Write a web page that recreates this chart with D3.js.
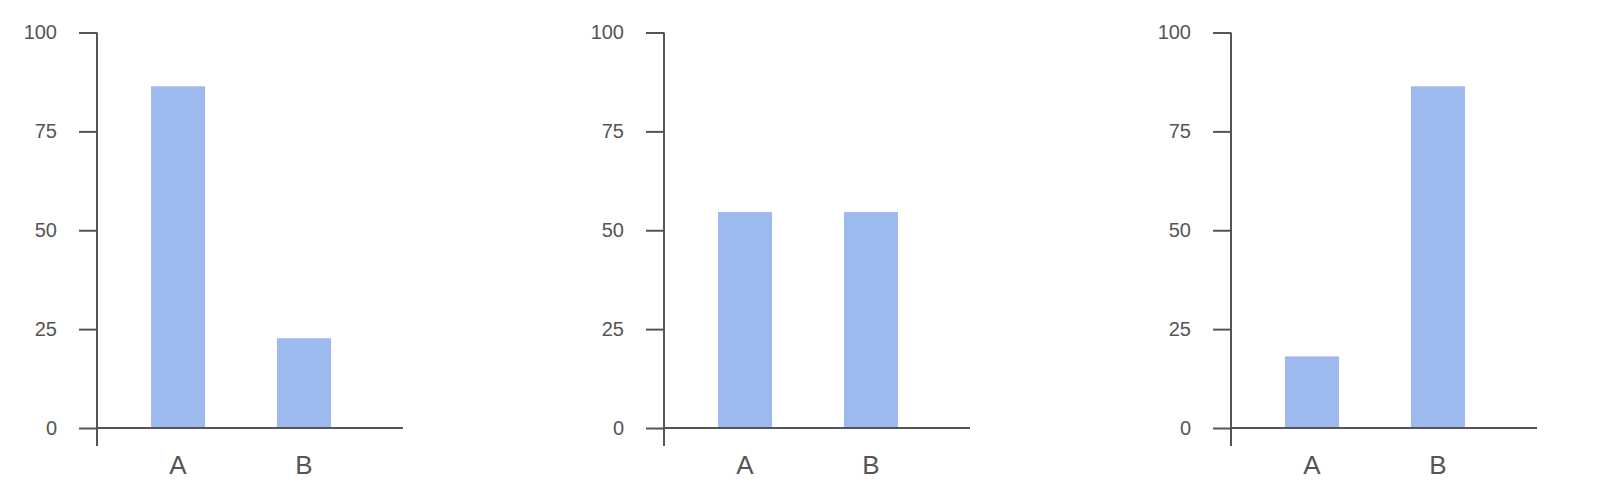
<!DOCTYPE html>
<html>
<head>
<meta charset="utf-8">
<script src="https://cdn.jsdelivr.net/npm/d3@7"></script>
<style>
  html, body { margin: 0; padding: 0; background: #fff; }
  svg { display: block; }
</style>
</head>
<body>
<svg id="chart" width="1600" height="495"></svg>
<script>
const categories = ["A", "B"];
const panelValues = [
  [86.4, 22.7],
  [54.6, 54.6],
  [18.1, 86.4]
];
const yTicks = [0, 25, 50, 75, 100];

const svg = d3.select("#chart");
const axisColor = "#555";
const barColor = "#9dbaee";
const panelStep = 567;
const firstX = 97;

const y = d3.scaleLinear().domain([0, 100]).range([428, 32.5]);

panelValues.forEach((vals, i) => {
  const ox = firstX + i * panelStep;
  const x = d3.scaleBand().domain(categories)
    .range([ox, ox + 288]).paddingInner(0.571).paddingOuter(0.429);

  const g = svg.append("g");

  // bars
  g.selectAll("rect").data(categories).join("rect")
    .attr("x", d => x(d))
    .attr("width", x.bandwidth())
    .attr("y", (d, j) => y(vals[j]))
    .attr("height", (d, j) => y(0) - y(vals[j]))
    .attr("fill", barColor);

  // y axis
  const ya = g.append("g").attr("transform", `translate(${ox},0)`)
    .call(d3.axisLeft(y).tickValues(yTicks).tickSize(18).tickSizeOuter(0).tickPadding(22));
  ya.select(".domain").attr("stroke", axisColor).attr("stroke-width", 2)
    .attr("d", `M0,${y(100)}V${y(0) + 18}`);
  ya.selectAll(".tick line").attr("stroke", axisColor).attr("stroke-width", 2);
  ya.selectAll(".tick text").attr("fill", axisColor)
    .style("font-family", "'Liberation Sans', Arial, sans-serif").style("font-size", "20px");

  // x axis
  const xa = g.append("g").attr("transform", `translate(0,${y(0)})`)
    .call(d3.axisBottom(x).tickSize(0).tickSizeOuter(0));
  xa.select(".domain").attr("stroke", axisColor).attr("stroke-width", 2)
    .attr("d", `M${ox},0H${ox + 306}`);
  xa.selectAll(".tick text").attr("fill", axisColor)
    .attr("y", 46).attr("dy", "0")
    .style("font-family", "'Liberation Sans', Arial, sans-serif").style("font-size", "26px");
});
</script>
</body>
</html>
